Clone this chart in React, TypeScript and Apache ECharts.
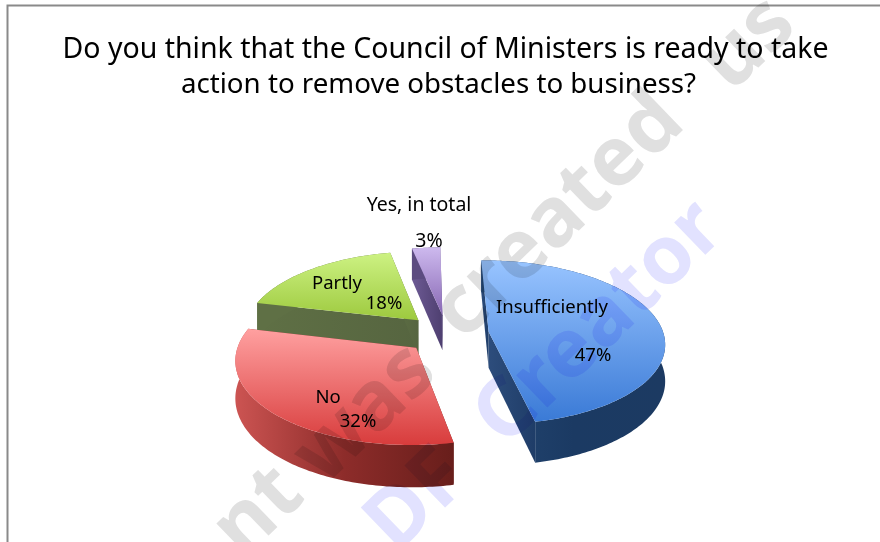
import React, { useEffect, useRef } from "react";
import * as echarts from "echarts";

const categories = ["Insufficiently", "No", "Partly", "Yes, in total"];
const shares = [47, 32, 18, 3];
const titleLines = [
  "Do you think that the Council of Ministers is ready to take",
  "action to remove obstacles to business?",
];
const watermarkGreyWords = ["nt", "was", "created", "us"];
const watermarkBlueWords = ["DF", "Creator"];

// Centres of the diagonal watermark words.
const greyWordSpots = [[253, 506], [360, 408], [553, 211], [743, 38]];
const blueWordSpots = [[412, 495], [594, 318]];

// Painter's order for the exploded wedges, back to front.
const paintOrder = [3, 2, 0, 1];

const FONT = '"Noto Sans", sans-serif';
const WATERMARK_GREY = "#e0e0e0";
const WATERMARK_BLUE = "#e2e2ff";

// Perspective pie geometry.
const pie = {
  ox: 447,
  oy: 334,
  rx: 175,
  ry: 81,
  k: 0.127,
  depth: 36,
  explode: 0.24,
  startDeg: -1,
};

const tones = [
  {
    top: ["#98c4ff", "#3a7ad6"],
    rim: ["#234672", "#1b3a63", "#1c3a62"],
    side: ["#2d4d7c", "#1f3d68"],
  },
  {
    top: ["#ffa0a0", "#d83c3c"],
    rim: ["#cc5452", "#8d2c2a", "#681e1b"],
    side: ["#8d2c2a", "#681e1b"],
  },
  {
    top: ["#cdf283", "#9dc93e"],
    rim: ["#5f7045", "#5f7045", "#5f7045"],
    side: ["#5f7045", "#566540"],
  },
  {
    top: ["#cdb9ee", "#8767b3"],
    rim: ["#5c4b80", "#5c4b80", "#5c4b80"],
    side: ["#6d5a94", "#4e3f70"],
  },
];

const labelSpots = [
  { name: [552, 305], share: [593, 353], size: 18.5 },
  { name: [328, 395], share: [358, 419], size: 18.5 },
  { name: [337, 281], share: [384, 301], size: 18.5 },
  { name: [419, 203], share: [429, 239], size: 19.5 },
];

const sum = shares.reduce((a, b) => a + b, 0);

function project(X: number, Y: number, Z: number) {
  const s = 1 / (1 - pie.k * Y);
  return [pie.ox + pie.rx * X * s, pie.oy + pie.ry * Y * s + pie.depth * Z * s];
}

function wedge(index: number) {
  const before = shares.slice(0, index).reduce((a, b) => a + b, 0);
  const from = pie.startDeg + (before / sum) * 360;
  const to = from + (shares[index] / sum) * 360;
  const mid = (((from + to) / 2) * Math.PI) / 180;
  const cx = pie.explode * Math.sin(mid);
  const cy = -pie.explode * Math.cos(mid);
  const arc: number[][] = [];
  const steps = Math.max(4, Math.ceil(to - from));
  for (let i = 0; i <= steps; i++) {
    const a = ((from + ((to - from) * i) / steps) * Math.PI) / 180;
    arc.push([cx + Math.sin(a), cy - Math.cos(a)]);
  }
  return { cx, cy, arc };
}

function renderWedge(params: any) {
  const index = paintOrder[params.dataIndex];
  const { cx, cy, arc } = wedge(index);
  const tone = tones[index];
  const topRim = arc.map((p) => project(p[0], p[1], 0));
  const lowRim = arc.map((p) => project(p[0], p[1], 1));
  const apexTop = project(cx, cy, 0);
  const apexLow = project(cx, cy, 1);
  const last = arc.length - 1;
  const vertical = (c: string[]) =>
    new echarts.graphic.LinearGradient(0, 0, 0, 1, c.map((color, i) => ({ offset: i / (c.length - 1), color })));
  const horizontal = (c: string[]) =>
    new echarts.graphic.LinearGradient(0, 0, 1, 0, c.map((color, i) => ({ offset: i / (c.length - 1), color })));
  const face = (points: number[][], fill: any) => ({
    type: "polygon",
    shape: { points },
    style: { fill },
  });
  return {
    type: "group",
    children: [
      face([apexTop, topRim[0], lowRim[0], apexLow], horizontal(tone.side)),
      face([apexTop, topRim[last], lowRim[last], apexLow], horizontal(tone.side)),
      face([...topRim, ...lowRim.slice().reverse()], horizontal(tone.rim)),
      face([apexTop, ...topRim], vertical(tone.top)),
    ],
  };
}

function watermarkText(text: string, at: number[], fill: string) {
  return {
    type: "text",
    x: at[0],
    y: at[1],
    rotation: (44 * Math.PI) / 180,
    z: 10,
    style: {
      text,
      font: `bold 82px ${FONT}`,
      fill,
      textAlign: "center",
      textVerticalAlign: "middle",
    },
  };
}

export default function App() {
  const ref = useRef<HTMLDivElement>(null);
  useEffect(() => {
    const chart = echarts.init(ref.current!, null, { renderer: "svg" });
    const labels: any[] = [];
    categories.forEach((name, i) => {
      const spot = labelSpots[i];
      [
        [name, spot.name],
        [`${shares[i]}%`, spot.share],
      ].forEach(([text, at]: any) => {
        labels.push({
          type: "text",
          x: at[0],
          y: at[1],
          z: 20,
          style: {
            text,
            font: `${spot.size}px ${FONT}`,
            fill: "#000",
            textAlign: "center",
            textVerticalAlign: "middle",
          },
        });
      });
    });
    // The watermark tints whatever lies beneath it instead of hiding it.
    const tintWatermark = () => {
      ref.current?.querySelectorAll("text").forEach((node) => {
        const fill = (node.getAttribute("fill") || "").toLowerCase();
        if (fill === WATERMARK_GREY || fill === WATERMARK_BLUE) {
          (node as unknown as SVGElement).style.mixBlendMode = "multiply";
        }
      });
    };
    chart.on("finished", tintWatermark);
    chart.setOption({
      animation: false,
      backgroundColor: "#ffffff",
      title: titleLines.map((text, i) => ({
        text,
        left: i === 0 ? 440.5 : 433.5,
        top: i === 0 ? 27 : 63,
        textAlign: "center",
        textStyle: {
          fontFamily: FONT,
          fontSize: i === 0 ? 28.5 : 27.7,
          fontWeight: "normal",
          color: "#000",
        },
      })),
      series: [
        {
          type: "custom",
          coordinateSystem: "none",
          silent: true,
          data: paintOrder.map((i) => ({ name: categories[i], value: shares[i] })),
          renderItem: renderWedge,
        },
      ],
      graphic: [
        {
          type: "polyline",
          z: 1,
          shape: { points: [[7.5, 542], [7.5, 5.5], [880, 5.5]] },
          style: { stroke: "#8a8a8a", lineWidth: 2, fill: "none" },
        },
        ...watermarkGreyWords.map((w, i) => watermarkText(w, greyWordSpots[i], WATERMARK_GREY)),
        ...watermarkBlueWords.map((w, i) => watermarkText(w, blueWordSpots[i], WATERMARK_BLUE)),
        ...labels,
      ],
    });
    tintWatermark();
    return () => chart.dispose();
  }, []);
  return (
    <div
      ref={ref}
      style={{ position: "fixed", left: 0, top: 0, width: 880, height: 542 }}
    />
  );
}
